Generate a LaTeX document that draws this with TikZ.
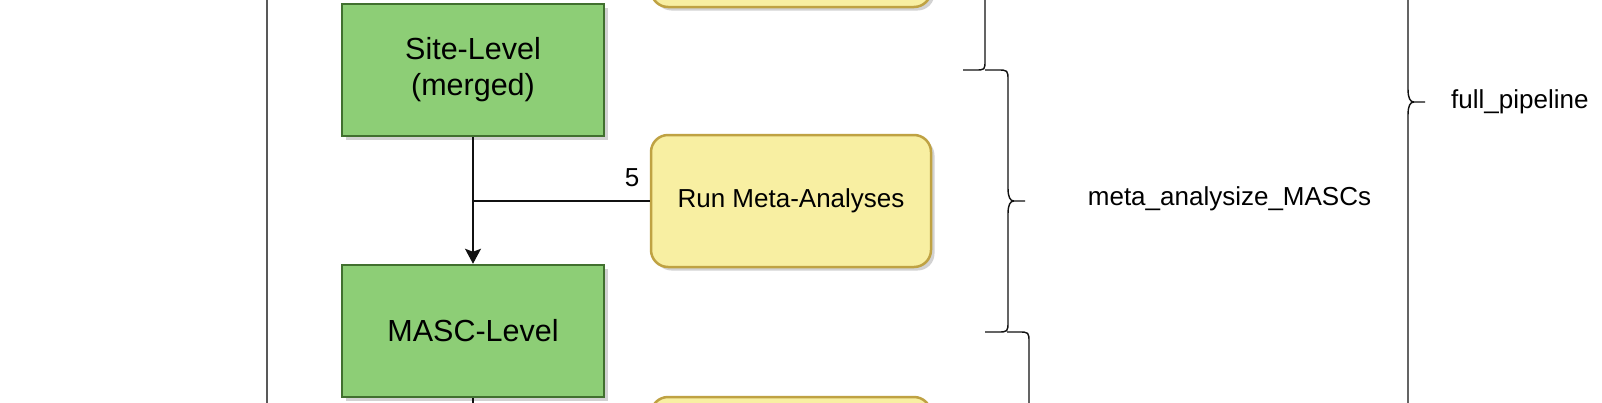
\documentclass[tikz,border=0pt]{standalone}
\usepackage{fontspec}
\setmainfont{Liberation Sans}
\usetikzlibrary{arrows.meta,shadows}
\definecolor{gfill}{HTML}{8DCE76}
\definecolor{gdraw}{HTML}{41702F}
\definecolor{yfill}{HTML}{F8EFA2}
\definecolor{ydraw}{HTML}{BFA243}
\definecolor{lnc}{HTML}{111111}
\tikzset{
  greenbox/.style={draw=gdraw, fill=gfill, line width=2.5pt, minimum width=262pt, minimum height=132pt,
    inner sep=0pt, align=center, font=\fontsize{30.5}{36}\selectfont,
    drop shadow={shadow xshift=3.5pt, shadow yshift=-3.5pt, fill=black!35}},
  yellowbox/.style={draw=ydraw, fill=yfill, line width=2.5pt, rounded corners=17pt, minimum width=280pt, minimum height=132pt,
    inner sep=0pt, align=center, font=\fontsize{26}{31}\selectfont,
    drop shadow={shadow xshift=3.5pt, shadow yshift=-3.5pt, fill=black!35}},
  conn/.style={draw=lnc, line width=1.4pt},
  bracel/.style={draw=lnc, line width=1.4pt},
  lbl/.style={font=\fontsize{26}{31}\selectfont, inner sep=0pt},
}
\begin{document}
\begin{tikzpicture}[x=1pt, y=-1pt]
\useasboundingbox (0,0) rectangle (1602,402);
\clip (0,0) rectangle (1602,402);
\fill[white] (0,0) rectangle (1602,402);
% left container line
\draw[draw=black!65, line width=1.5pt] (267,-10) -- (267,412);
% nodes
\node[greenbox] (site) at (473,70) {Site-Level\\(merged)};
\node[greenbox] (masc) at (473,331) {MASC-Level};
\node[yellowbox] (topy) at (791,-59) {};
\node[yellowbox] (run) at (791,201) {Run Meta-Analyses};
\node[yellowbox] (boty) at (791,463) {};
% connectors
\coordinate (join) at (473,201);
\coordinate (down) at (473,420);
\draw[conn, -{Stealth[length=15pt, width=16pt, inset=3pt]}] (site.south) -- (masc.north);
\draw[conn] (run.west) -- (join);
\draw[conn] (masc.south) -- (down);
\node[lbl] (five) at (632,178) {5};
% braces
\draw[bracel] (985,-20) -- (985,60) .. controls (985,70) .. (975,70) -- (963,70);
\draw[bracel] (985,70) -- (997,70) .. controls (1008,70) .. (1008,81) -- (1008,188)
  .. controls (1008,197) and (1010,201) .. (1014,201) -- (1025,201);
\draw[bracel] (1014,201) .. controls (1010,201) and (1008,205) .. (1008,214) -- (1008,321)
  .. controls (1008,332) .. (997,332) -- (985,332);
\draw[bracel] (1007,332) -- (1018,332) .. controls (1029,332) .. (1029,343) -- (1029,420);
\draw[bracel] (1408,-20) -- (1408,89) .. controls (1408,98) and (1410,102) .. (1414,102) -- (1425,102);
\draw[bracel] (1414,102) .. controls (1410,102) and (1408,106) .. (1408,115) -- (1408,420);
% labels
\node[lbl] (meta) at (1229.5,199) {meta\_analysize\_MASCs};
\node[lbl, anchor=west] (full) at (1451,102) {full\_pipeline};
\end{tikzpicture}
\end{document}
